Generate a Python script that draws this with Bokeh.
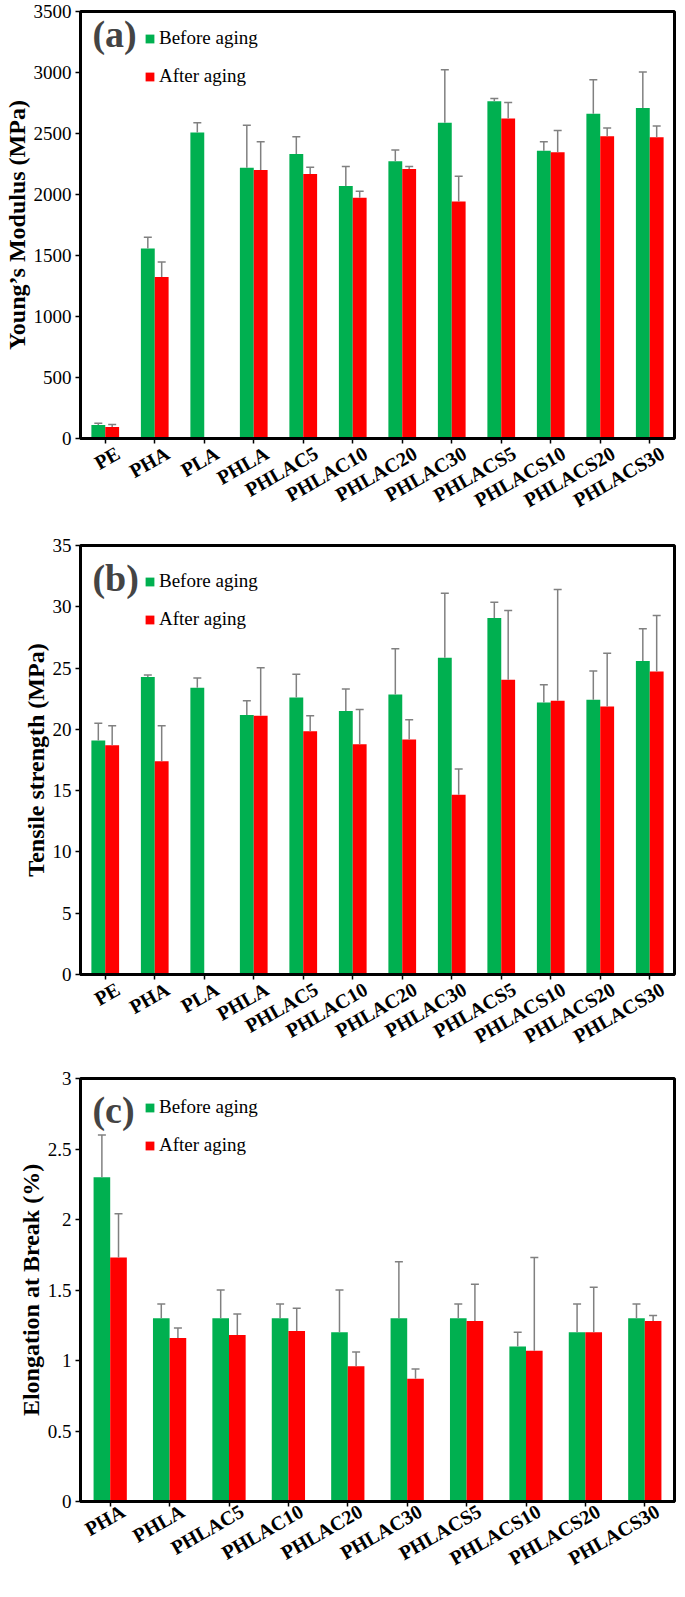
import numpy as np
from bokeh.plotting import figure
from bokeh.models import (ColumnDataSource, Range1d, FixedTicker, Whisker, TeeHead,
                          Legend, LegendItem, Label, CustomJSTickFormatter, LinearAxis)
from bokeh.layouts import column
from bokeh.embed import file_html
from bokeh.resources import INLINE

# ---------------- data ----------------
cats_ab = ["PE", "PHA", "PLA", "PHLA", "PHLAC5", "PHLAC10", "PHLAC20", "PHLAC30",
           "PHLACS5", "PHLACS10", "PHLACS20", "PHLACS30"]
cats_c = ["PHA", "PHLA", "PHLAC5", "PHLAC10", "PHLAC20", "PHLAC30",
          "PHLACS5", "PHLACS10", "PHLACS20", "PHLACS30"]

ym_before = [110, 1557, 2508, 2219, 2332, 2070, 2273, 2589, 2765, 2359, 2662, 2708]
ym_before_sd = [15, 92, 81, 349, 141, 160, 92, 433, 21, 73, 279, 297]
ym_after = [95, 1324, np.nan, 2200, 2168, 1973, 2208, 1943, 2622, 2346, 2478, 2470]
ym_after_sd = [20, 122, np.nan, 232, 56, 54, 22, 206, 132, 178, 68, 92]

ts_before = [19.1, 24.27, 23.4, 21.17, 22.6, 21.49, 22.85, 25.84, 29.08, 22.2, 22.42, 25.57]
ts_before_sd = [1.4, 0.16, 0.8, 1.17, 1.9, 1.8, 3.73, 5.27, 1.3, 1.44, 2.34, 2.63]
ts_after = [18.7, 17.4, np.nan, 21.1, 19.84, 18.78, 19.18, 14.67, 24.05, 22.34, 21.87, 24.73]
ts_after_sd = [1.6, 2.9, np.nan, 3.93, 1.26, 2.85, 1.61, 2.1, 5.65, 9.07, 4.33, 4.56]

el_before = [2.3, 1.3, 1.3, 1.3, 1.2, 1.3, 1.3, 1.1, 1.2, 1.3]
el_before_sd = [0.3, 0.1, 0.2, 0.1, 0.3, 0.4, 0.1, 0.1, 0.2, 0.1]
el_after = [1.73, 1.16, 1.18, 1.21, 0.96, 0.87, 1.28, 1.07, 1.20, 1.28]
el_after_sd = [0.31, 0.07, 0.15, 0.16, 0.10, 0.07, 0.26, 0.66, 0.32, 0.04]

ab_yticks = [0, 500, 1000, 1500, 2000, 2500, 3000, 3500]
b_yticks = [0, 5, 10, 15, 20, 25, 30, 35]
c_yticks = [0, 0.5, 1, 1.5, 2, 2.5, 3]

GREEN = "#00B050"
RED = "#FF0000"
GRAY = "#808080"
SERIF = "Liberation Serif"
FIG_W = 677
LEFT_B = 77
RIGHT_B = 3
FRAME_W = FIG_W - LEFT_B - RIGHT_B
BAR_W = 0.28


def panel(cats, before, bsd, after, asd, yticks, ylabel, tag, height, top_b, bottom_b,
          tag_off, leg_off, lab_standoff):
    n = len(cats)
    ymax = yticks[-1]
    frame_h = height - top_b - bottom_b
    p = figure(width=FIG_W, height=height, output_backend="svg", toolbar_location=None,
               x_range=Range1d(0, n), y_range=Range1d(0, ymax),
               min_border_left=LEFT_B, min_border_right=RIGHT_B,
               min_border_top=top_b, min_border_bottom=bottom_b)
    p.grid.visible = False
    p.outline_line_color = "black"
    p.outline_line_width = 3
    p.background_fill_color = "white"
    p.border_fill_color = "white"

    centers = np.arange(n) + 0.5
    renderers = []
    for vals, sds, off, col in [(before, bsd, -BAR_W / 2, GREEN), (after, asd, BAR_W / 2, RED)]:
        vals = np.asarray(vals, dtype=float)
        sds = np.asarray(sds, dtype=float)
        m = ~np.isnan(vals)
        src = ColumnDataSource(dict(x=centers[m] + off, top=vals[m], upper=vals[m] + sds[m]))
        r = p.vbar(x="x", top="top", bottom=0, width=BAR_W, source=src,
                   fill_color=col, line_color=None)
        renderers.append(r)
        w = Whisker(source=src, base="x", lower="top", upper="upper",
                    line_color=GRAY, line_width=1.5, lower_head=None,
                    upper_head=TeeHead(size=8, line_color=GRAY, line_width=1.5),
                    level="overlay")
        p.add_layout(w)

    px_per_x = FRAME_W / n
    px_per_y = frame_h / ymax

    # x axis: tick marks at category centres (no labels)
    p.xaxis.ticker = FixedTicker(ticks=list(centers))
    p.xaxis.formatter = CustomJSTickFormatter(code="return '';")
    p.xaxis.major_label_standoff = 0
    p.xaxis.major_label_text_font_size = "1px"
    p.xaxis.major_tick_out = 5
    p.xaxis.major_tick_in = 0
    p.xaxis.minor_tick_line_color = None
    p.xaxis.axis_line_width = 3
    p.xaxis.major_tick_line_width = 1.5

    # x axis carrying the rotated category names (Excel-like placement)
    lab_shift = 13 / px_per_x
    lab_axis = LinearAxis(ticker=FixedTicker(ticks=list(centers + lab_shift)),
                          formatter=CustomJSTickFormatter(
                              args=dict(names=cats, shift=lab_shift),
                              code="return names[Math.floor(tick - shift)];"),
                          axis_line_color=None, major_tick_line_color=None,
                          minor_tick_line_color=None,
                          major_tick_out=0, major_tick_in=0,
                          major_label_orientation=0.52,
                          major_label_standoff=lab_standoff,
                          major_label_text_font=SERIF,
                          major_label_text_font_style="bold",
                          major_label_text_font_size="20px",
                          major_label_text_color="black")
    p.add_layout(lab_axis, "below")

    p.yaxis.ticker = FixedTicker(ticks=yticks)
    p.yaxis.formatter = CustomJSTickFormatter(code="return String(tick);")
    p.yaxis.major_label_text_font = SERIF
    p.yaxis.major_label_text_font_size = "19px"
    p.yaxis.major_label_text_color = "black"
    p.yaxis.major_label_standoff = 4
    p.yaxis.major_tick_out = 5
    p.yaxis.major_tick_in = 0
    p.yaxis.minor_tick_line_color = None
    p.yaxis.axis_line_width = 3
    p.yaxis.major_tick_line_width = 1.5
    p.yaxis.axis_label = ylabel
    p.yaxis.axis_label_text_font = SERIF
    p.yaxis.axis_label_text_font_style = "bold"
    p.yaxis.axis_label_text_font_size = "24px"
    p.yaxis.axis_label_text_color = "black"
    p.yaxis.axis_label_standoff = 1

    # panel tag
    p.add_layout(Label(x=12 / px_per_x, y=ymax - tag_off / px_per_y, text=tag,
                       text_font=SERIF, text_font_style="bold", text_font_size="38px",
                       text_baseline="middle", text_align="left"))

    legend = Legend(items=[LegendItem(label="Before aging", renderers=[renderers[0]]),
                           LegendItem(label="After aging", renderers=[renderers[1]])],
                    location=(64, frame_h - (leg_off + 55)),
                    glyph_width=11, glyph_height=11, label_height=20, spacing=16,
                    label_standoff=4, padding=0, margin=0,
                    label_text_font=SERIF, label_text_font_size="19px",
                    label_text_color="black",
                    border_line_color=None, background_fill_alpha=0)
    p.add_layout(legend)
    return p


pa = panel(cats_ab, ym_before, ym_before_sd, ym_after, ym_after_sd, ab_yticks,
           "Young\u2019s Modulus (MPa)", "(a)", 528, 11, 90, 22, 21, 8)
pb = panel(cats_ab, ts_before, ts_before_sd, ts_after, ts_after_sd, b_yticks,
           "Tensile strength (MPa)", "(b)", 540, 17, 94, 32, 30, 8)
pc = panel(cats_c, el_before, el_before_sd, el_after, el_after_sd, c_yticks,
           "Elongation at Break (%)", "(c)", 513, 10, 74, 32, 29, 3)

layout = column(pa, pb, pc, spacing=0)
open("out.html", "w").write(file_html(layout, INLINE))
